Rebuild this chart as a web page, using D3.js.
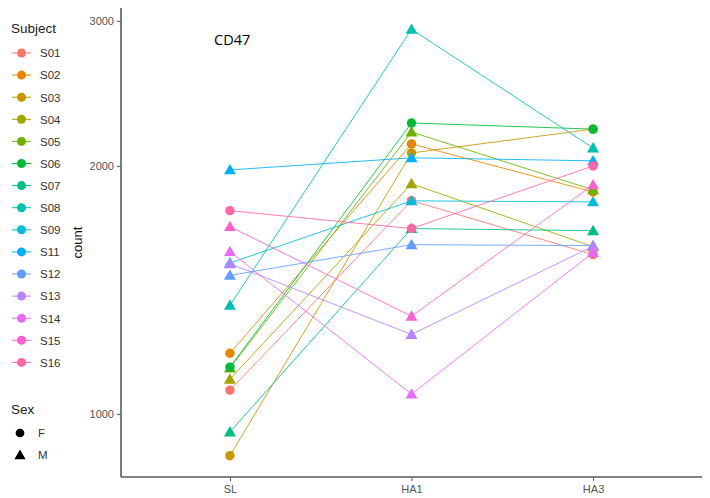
<!DOCTYPE html>
<html>
<head>
<meta charset="utf-8">
<script src="https://cdn.jsdelivr.net/npm/d3@7"></script>
<style>
  body { margin: 0; background: #fff; }
  svg { display: block; font-family: "Liberation Sans", Arial, sans-serif; }
</style>
</head>
<body>
<svg id="chart" width="710" height="498"></svg>
<script>
// Timepoints and subjects
const timepoints = ["SL", "HA1", "HA3"];
const subjects = ["S01","S02","S03","S04","S05","S06","S07","S08","S09","S11","S12","S13","S14","S15","S16"];
const sexBySubject = ["F","F","F","M","M","F","M","M","M","M","M","M","M","M","F"];

// CD47 counts per subject at each timepoint
const countSL  = [1069, 1185,  890, 1102, 1137, 1140,  951, 1355, 1525, 1978, 1473, 1522, 1574, 1688, 1765];
const countHA1 = [1815, 2127, 2074, 1903, 2199, 2255, 1679, 2930, 1814, 2046, 1605, 1249, 1057, 1314, 1679];
const countHA3 = [1561, 1860, 2217, 1596, 1871, 2217, 1669, 2103, 1809, 2029, 1601, 1598, 1570, 1897, 2000];

const yTicks = [1000, 2000, 3000];
const sexLevels = ["F", "M"];

// ggplot-style hue palette for 15 levels
const palette = ["#F8766D","#E58700","#C99800","#A3A500","#6BB100","#00BA38","#00BF7D","#00C0AF",
                 "#00BCD8","#00B0F6","#619CFF","#B983FF","#E76BF3","#FD61D1","#FF67A4"];

const rows = subjects.map((s, i) => ({
  subject: s,
  sex: sexBySubject[i],
  values: [countSL[i], countHA1[i], countHA3[i]]
}));

const svg = d3.select("#chart");
const plot = { left: 121, right: 702, top: 8, bottom: 477 };

const color = d3.scaleOrdinal().domain(subjects).range(palette);
const shape = d3.scaleOrdinal().domain(sexLevels).range([d3.symbolCircle, d3.symbolTriangle]);

// discrete x with 0.6 unit padding on both ends
const x = d3.scalePoint().domain(timepoints)
  .range([plot.left, plot.right]).padding(0.6);

// log y with 5% expansion of the data range
const allVals = countSL.concat(countHA1, countHA3);
const lmin = Math.log10(d3.min(allVals)), lmax = Math.log10(d3.max(allVals));
const pad = (lmax - lmin) * 0.05;
const y = d3.scaleLog()
  .domain([Math.pow(10, lmin - pad), Math.pow(10, lmax + pad)])
  .range([plot.bottom, plot.top]);

// axes
const axisColor = "#5a5a5a";
const tickText = "#555";

const yAxis = svg.append("g").attr("transform", `translate(${plot.left},0)`)
  .call(d3.axisLeft(y).tickValues(yTicks).tickFormat(d3.format("d")).tickSize(4).tickPadding(3));
const xAxis = svg.append("g").attr("transform", `translate(0,${plot.bottom})`)
  .call(d3.axisBottom(x).tickSize(4).tickPadding(4));
[yAxis, xAxis].forEach(g => {
  g.select(".domain").attr("stroke", axisColor).attr("stroke-width", 1.6);
  g.selectAll(".tick line").attr("stroke", axisColor).attr("stroke-width", 1);
  g.selectAll(".tick text").attr("fill", tickText).attr("font-size", 11)
    .attr("font-family", "Liberation Sans, Arial, sans-serif");
});
// keep the axis lines meeting at the corner
yAxis.select(".domain").attr("d", `M-0,${plot.top}V${plot.bottom}`);
xAxis.select(".domain").attr("d", `M${plot.left},0H${plot.right}`);

svg.append("text")
  .attr("transform", `translate(82,${(plot.top + plot.bottom) / 2}) rotate(-90)`)
  .attr("text-anchor", "middle")
  .attr("font-size", 13).attr("fill", "#111")
  .text("count");

// subject trajectories
const line = d3.line()
  .x((d, i) => x(timepoints[i]))
  .y(d => y(d));

svg.append("g").selectAll("path").data(rows).join("path")
  .attr("d", d => line(d.values))
  .attr("fill", "none")
  .attr("stroke", d => color(d.subject))
  .attr("stroke-width", 1)
  .attr("stroke-opacity", 0.85);

// points
const sym = d3.symbol().size(d => d.sex === "F" ? 70 : 62).type(d => shape(d.sex));
const ptG = svg.append("g");
rows.forEach(r => {
  r.values.forEach((v, i) => {
    ptG.append("path")
      .attr("d", sym(r))
      .attr("transform", `translate(${x(timepoints[i])},${y(v) + (r.sex === "M" ? 1 : 0)})`)
      .attr("fill", color(r.subject));
  });
});

// annotation
svg.append("text")
  .attr("x", 214).attr("y", 45)
  .attr("font-size", 14.5).attr("fill", "#000")
  .attr("font-family", "Open Sans, Liberation Sans, sans-serif")
  .text("CD47");

// legends
const leg = svg.append("g");
leg.append("text").attr("x", 11).attr("y", 33)
  .attr("font-size", 13.5).attr("fill", "#222").text("Subject");

const step = 22.1;
subjects.forEach((s, i) => {
  const cy = 53 + i * step;
  leg.append("line").attr("x1", 12).attr("x2", 31).attr("y1", cy).attr("y2", cy)
    .attr("stroke", color(s)).attr("stroke-width", 1);
  leg.append("path").attr("d", d3.symbol().type(d3.symbolCircle).size(64)())
    .attr("transform", `translate(21.5,${cy})`).attr("fill", color(s));
  leg.append("text").attr("x", 40).attr("y", cy + 4.3)
    .attr("font-size", 11.5).attr("fill", "#333").text(s);
});

leg.append("text").attr("x", 11).attr("y", 414)
  .attr("font-size", 13.5).attr("fill", "#222").text("Sex");
sexLevels.forEach((s, i) => {
  const cy = 433 + i * 22;
  leg.append("path").attr("d", d3.symbol().type(shape(s)).size(s === "F" ? 60 : 54)())
    .attr("transform", `translate(20,${cy + (s === "M" ? 1 : 0)})`).attr("fill", "#000");
  leg.append("text").attr("x", 38).attr("y", cy + 4.3)
    .attr("font-size", 11.5).attr("fill", "#333").text(s);
});
</script>
</body>
</html>
